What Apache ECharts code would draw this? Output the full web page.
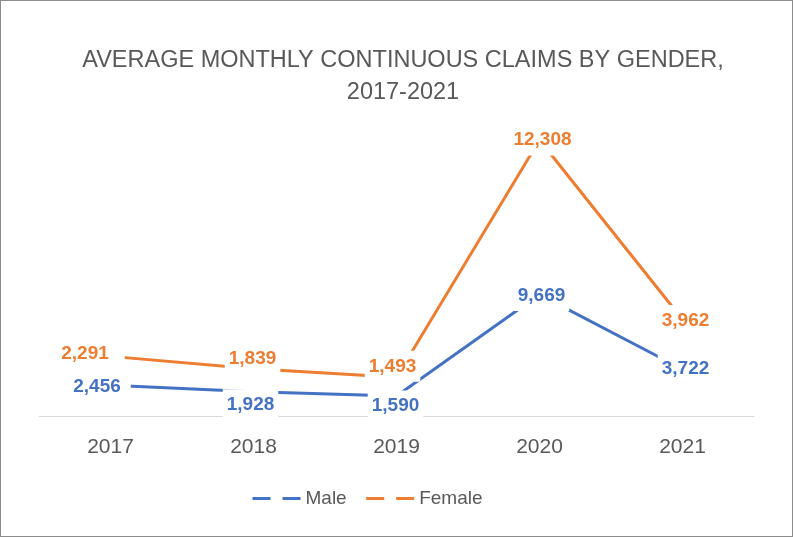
<!DOCTYPE html>
<html lang="en">
<head>
    <meta charset="UTF-8">
    <title>Average Monthly Continuous Claims by Gender</title>
    <script src="https://cdn.jsdelivr.net/npm/echarts@6.0.0/dist/echarts.min.js"></script>
    <style>
        html, body { margin: 0; padding: 0; background: #fff; }
        #main { width: 793px; height: 537px; box-sizing: border-box; border: 1px solid #8c8c8c; }
    </style>
</head>
<body>
    <div id="main"></div>
    <script>
        // data
        const years = ['2017', '2018', '2019', '2020', '2021'];
        const maleClaims = [2456, 1928, 1590, 9669, 3722];
        const femaleClaims = [2291, 1839, 1493, 12308, 3962];

        // where each value label sits relative to its point (px)
        const maleLabelOffsets = [[-10, 2], [-3, 13], [-1, 10], [2, 1], [3, 0]];
        const femaleLabelOffsets = [[-19, -3], [-1, -10], [-4, -11], [3, 0], [3, 1]];

        const chart = echarts.init(document.getElementById('main'));

        function withLabels(values, offsets, firstPad) {
            return values.map(function (v, i) {
                return {
                    value: v,
                    label: {
                        offset: offsets[i],
                        padding: i === 0 ? firstPad : [6, 4, 6, 4]
                    }
                };
            });
        }

        const labelBase = {
            show: true,
            position: 'inside',
            fontFamily: 'Liberation Sans',
            fontWeight: 'bold',
            fontSize: 19,
            backgroundColor: '#fff',
            formatter: function (p) { return p.value.toLocaleString('en-US'); }
        };

        const option = {
            backgroundColor: '#fff',
            animation: false,
            title: {
                text: 'AVERAGE MONTHLY CONTINUOUS CLAIMS BY GENDER,\n2017-2021',
                left: 397,
                top: 39,
                textAlign: 'center',
                textStyle: {
                    fontFamily: 'Liberation Sans',
                    fontWeight: 'normal',
                    fontSize: 23.5,
                    lineHeight: 32,
                    color: '#595959'
                }
            },
            legend: {
                left: 245,
                top: 483,
                itemWidth: 48,
                itemHeight: 12,
                itemGap: 18,
                lineStyle: { type: [18, 12], width: 3 },
                itemStyle: { opacity: 0 },
                textStyle: { fontFamily: 'Liberation Sans', fontSize: 19, color: '#595959' },
                data: ['Male', 'Female']
            },
            grid: { left: 38, right: 38, top: 101, bottom: 120, containLabel: false },
            xAxis: {
                type: 'category',
                data: years,
                boundaryGap: true,
                axisLine: { lineStyle: { color: '#d9d9d9', width: 1 } },
                axisTick: { show: false },
                axisLabel: {
                    margin: 21,
                    fontFamily: 'Liberation Sans',
                    fontSize: 21,
                    color: '#595959'
                }
            },
            yAxis: {
                type: 'value',
                min: 0,
                max: 25000,
                show: false,
                splitLine: { show: false }
            },
            series: [
                {
                    name: 'Male',
                    type: 'line',
                    stack: 'total',
                    data: withLabels(maleClaims, maleLabelOffsets, [6, 10, 6, 3]),
                    symbol: 'circle',
                    symbolSize: 1,
                    color: '#4472C4',
                    lineStyle: { color: '#4472C4', width: 3 },
                    itemStyle: { color: '#4472C4' },
                    label: Object.assign({}, labelBase, { color: '#4472C4' }),
                    z: 2
                },
                {
                    name: 'Female',
                    type: 'line',
                    stack: 'total',
                    data: withLabels(femaleClaims, femaleLabelOffsets, [6, 16, 6, 3]),
                    symbol: 'circle',
                    symbolSize: 1,
                    color: '#ED7D31',
                    lineStyle: { color: '#ED7D31', width: 3 },
                    itemStyle: { color: '#ED7D31' },
                    label: Object.assign({}, labelBase, { color: '#ED7D31' }),
                    z: 3
                }
            ]
        };

        chart.setOption(option);
    </script>
</body>
</html>
